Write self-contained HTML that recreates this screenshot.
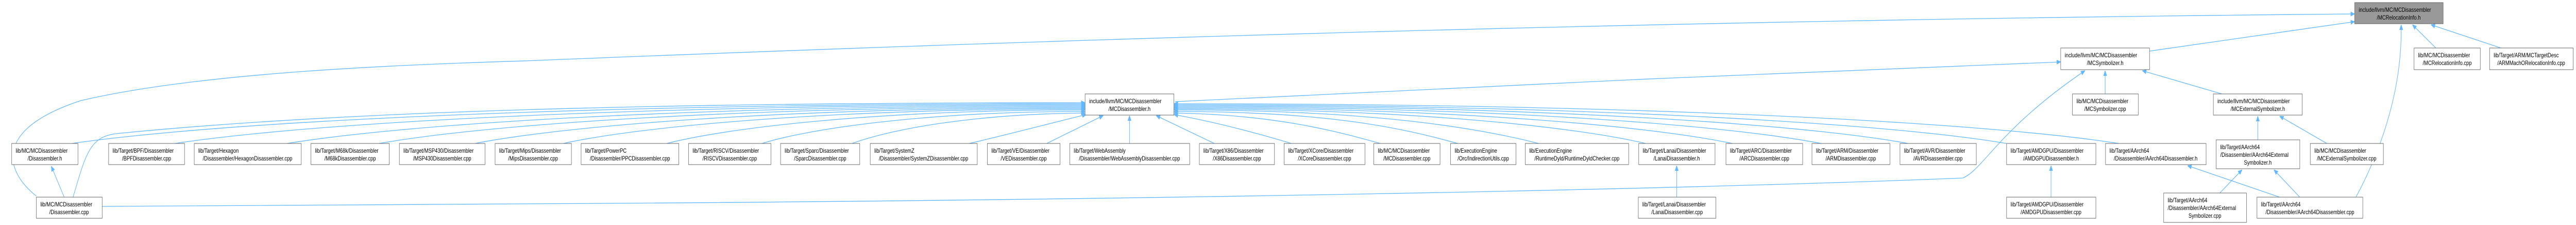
<!DOCTYPE html>
<html><head><meta charset="utf-8"><style>
html,body{margin:0;padding:0;background:#fff;overflow:hidden;width:100vw;height:100vh;}
svg{display:block;width:100vw;height:100vh;}
text{font-family:"Liberation Sans",Arial,sans-serif;font-size:12px;fill:#000;}
.n{fill:#fff;stroke:#666;stroke-width:1;}
.e{fill:none;stroke:#63b8ff;stroke-width:1.3;}
</style></head><body>
<svg viewBox="0 0 6379 436" preserveAspectRatio="none" xmlns="http://www.w3.org/2000/svg">
<defs><marker id="a" viewBox="0 0 10 10" refX="10" refY="5" markerWidth="10" markerHeight="10" markerUnits="userSpaceOnUse" orient="auto"><path d="M0,1 L10,5 L0,9 z" fill="#63b8ff" stroke="#63b8ff"/></marker></defs>
<g class="edges">
<path class="e" marker-end="url(#a)" d="M178,278 C560,235 1440,201 2687,201"/>
<path class="e" marker-end="url(#a)" d="M433,278 C770,238 1560,203 2687,203"/>
<path class="e" marker-end="url(#a)" d="M711,278 C1010,240 1700,205 2687,205"/>
<path class="e" marker-end="url(#a)" d="M939,278 C1200,242 1810,207 2687,207"/>
<path class="e" marker-end="url(#a)" d="M1176,278 C1400,244 1930,209 2687,209"/>
<path class="e" marker-end="url(#a)" d="M1395,278 C1580,246 2040,211 2687,211"/>
<path class="e" marker-end="url(#a)" d="M1651,278 C1800,248 2170,213 2687,213"/>
<path class="e" marker-end="url(#a)" d="M1887,278 C2000,250 2290,216 2687,216"/>
<path class="e" marker-end="url(#a)" d="M2110,278 C2200,252 2400,221 2687,219"/>
<path class="e" marker-end="url(#a)" d="M2400,278 C2500,260 2620,235 2690,222"/>
<path class="e" marker-end="url(#a)" d="M2592,278 L2732,224"/>
<path class="e" marker-end="url(#a)" d="M2797,278 L2797,224"/>
<path class="e" marker-end="url(#a)" d="M3007,278 L2863,224"/>
<path class="e" marker-end="url(#a)" d="M3198,278 C3100,255 3000,235 2907,222"/>
<path class="e" marker-end="url(#a)" d="M3418,278 C3300,252 3150,222 2907,219"/>
<path class="e" marker-end="url(#a)" d="M3610,278 C3480,250 3300,216 2907,216"/>
<path class="e" marker-end="url(#a)" d="M3810,278 C3660,248 3400,213 2907,213"/>
<path class="e" marker-end="url(#a)" d="M4075,278 C3900,246 3500,211 2907,211"/>
<path class="e" marker-end="url(#a)" d="M4290,278 C4080,244 3600,209 2907,209"/>
<path class="e" marker-end="url(#a)" d="M4510,278 C4270,242 3700,207 2907,207"/>
<path class="e" marker-end="url(#a)" d="M4725,278 C4460,240 3800,205 2907,205"/>
<path class="e" marker-end="url(#a)" d="M4968,278 C4670,238 3900,203 2907,203"/>
<path class="e" marker-end="url(#a)" d="M5247,278 C4900,236 4050,201 2907,201"/>
<path class="e" marker-end="url(#a)" d="M159,382 L127,322"/>
<path class="e" marker-end="url(#a)" d="M181,382 C215,290 225,262 300,258 C800,220 1500,199 2687,199"/>
<path class="e" marker-end="url(#a)" d="M90,380 C10,330 -15,250 200,195 C500,140 1000,125 1300,118 C2500,80 4000,40 5831,27"/>
<path class="e" marker-end="url(#a)" d="M253,400 L1300,395 C2500,390 4000,372 4860,345 C4910,330 4950,250 5163,137"/>
<path class="e" marker-end="url(#a)" d="M2910,197 C3600,170 4400,140 5103,120"/>
<path class="e" marker-end="url(#a)" d="M5213,182 L5213,137"/>
<path class="e" marker-end="url(#a)" d="M5502,182 L5305,137"/>
<path class="e" marker-end="url(#a)" d="M5323,99 L5831,42"/>
<path class="e" marker-end="url(#a)" d="M6032,93 L5974,48"/>
<path class="e" marker-end="url(#a)" d="M6193,93 L6020,48"/>
<path class="e" marker-end="url(#a)" d="M5834,382 C5870,330 5950,200 5946,48"/>
<path class="e" marker-end="url(#a)" d="M5591,271 L5591,225"/>
<path class="e" marker-end="url(#a)" d="M5762,278 L5645,225"/>
<path class="e" marker-end="url(#a)" d="M5497,374 L5552,329"/>
<path class="e" marker-end="url(#a)" d="M5695,382 L5631,329"/>
<path class="e" marker-end="url(#a)" d="M5645,382 L5417,321"/>
<path class="e" marker-end="url(#a)" d="M4152,382 L4152,321"/>
<path class="e" marker-end="url(#a)" d="M5079,382 L5079,321"/>
</g>
<g class="nodes">
<rect x="5831" y="5" width="219" height="41" fill="#999" stroke="#666"/>
<text x="5841" y="23">include/llvm/MC/MCDisassembler</text><text x="5940" y="38" text-anchor="middle">/MCRelocationInfo.h</text>

<rect class="n" x="5103" y="93" width="220" height="42"/>
<text x="5113" y="111">include/llvm/MC/MCDisassembler</text><text x="5213" y="126" text-anchor="middle">/MCSymbolizer.h</text>
<rect class="n" x="5978" y="93" width="164" height="42"/>
<text x="5988" y="111">lib/MC/MCDisassembler</text><text x="6060" y="126" text-anchor="middle">/MCRelocationInfo.cpp</text>
<rect class="n" x="6165" y="93" width="207" height="42"/>
<text x="6175" y="111">lib/Target/ARM/MCTargetDesc</text><text x="6268" y="126" text-anchor="middle">/ARMMachORelocationInfo.cpp</text>

<rect class="n" x="2687" y="182" width="220" height="41"/>
<text x="2697" y="200">include/llvm/MC/MCDisassembler</text><text x="2797" y="215" text-anchor="middle">/MCDisassembler.h</text>
<rect class="n" x="5132" y="182" width="163" height="41"/>
<text x="5142" y="200">lib/MC/MCDisassembler</text><text x="5213" y="215" text-anchor="middle">/MCSymbolizer.cpp</text>
<rect class="n" x="5481" y="182" width="220" height="41"/>
<text x="5491" y="200">include/llvm/MC/MCDisassembler</text><text x="5591" y="215" text-anchor="middle">/MCExternalSymbolizer.h</text>

<rect class="n" x="29" y="278" width="164" height="41"/>
<text x="39" y="296">lib/MC/MCDisassembler</text><text x="111" y="311" text-anchor="middle">/Disassembler.h</text>
<rect class="n" x="269" y="278" width="188" height="41"/>
<text x="279" y="296">lib/Target/BPF/Disassembler</text><text x="363" y="311" text-anchor="middle">/BPFDisassembler.cpp</text>
<rect class="n" x="481" y="278" width="265" height="41"/>
<text x="491" y="296">lib/Target/Hexagon</text><text x="613" y="311" text-anchor="middle">/Disassembler/HexagonDisassembler.cpp</text>
<rect class="n" x="770" y="278" width="194" height="41"/>
<text x="780" y="296">lib/Target/M68k/Disassembler</text><text x="867" y="311" text-anchor="middle">/M68kDisassembler.cpp</text>
<rect class="n" x="989" y="278" width="212" height="41"/>
<text x="999" y="296">lib/Target/MSP430/Disassembler</text><text x="1095" y="311" text-anchor="middle">/MSP430Disassembler.cpp</text>
<rect class="n" x="1226" y="278" width="189" height="41"/>
<text x="1236" y="296">lib/Target/Mips/Disassembler</text><text x="1320" y="311" text-anchor="middle">/MipsDisassembler.cpp</text>
<rect class="n" x="1439" y="278" width="242" height="41"/>
<text x="1449" y="296">lib/Target/PowerPC</text><text x="1560" y="311" text-anchor="middle">/Disassembler/PPCDisassembler.cpp</text>
<rect class="n" x="1705" y="278" width="204" height="41"/>
<text x="1715" y="296">lib/Target/RISCV/Disassembler</text><text x="1807" y="311" text-anchor="middle">/RISCVDisassembler.cpp</text>
<rect class="n" x="1933" y="278" width="196" height="41"/>
<text x="1943" y="296">lib/Target/Sparc/Disassembler</text><text x="2031" y="311" text-anchor="middle">/SparcDisassembler.cpp</text>
<rect class="n" x="2155" y="278" width="265" height="41"/>
<text x="2165" y="296">lib/Target/SystemZ</text><text x="2287" y="311" text-anchor="middle">/Disassembler/SystemZDisassembler.cpp</text>
<rect class="n" x="2445" y="278" width="180" height="41"/>
<text x="2455" y="296">lib/Target/VE/Disassembler</text><text x="2535" y="311" text-anchor="middle">/VEDisassembler.cpp</text>
<rect class="n" x="2649" y="278" width="297" height="41"/>
<text x="2659" y="296">lib/Target/WebAssembly</text><text x="2797" y="311" text-anchor="middle">/Disassembler/WebAssemblyDisassembler.cpp</text>
<rect class="n" x="2970" y="278" width="186" height="41"/>
<text x="2980" y="296">lib/Target/X86/Disassembler</text><text x="3063" y="311" text-anchor="middle">/X86Disassembler.cpp</text>
<rect class="n" x="3180" y="278" width="200" height="41"/>
<text x="3190" y="296">lib/Target/XCore/Disassembler</text><text x="3280" y="311" text-anchor="middle">/XCoreDisassembler.cpp</text>
<rect class="n" x="3402" y="278" width="164" height="41"/>
<text x="3412" y="296">lib/MC/MCDisassembler</text><text x="3484" y="311" text-anchor="middle">/MCDisassembler.cpp</text>
<rect class="n" x="3592" y="278" width="162" height="41"/>
<text x="3602" y="296">lib/ExecutionEngine</text><text x="3673" y="311" text-anchor="middle">/Orc/IndirectionUtils.cpp</text>
<rect class="n" x="3777" y="278" width="256" height="41"/>
<text x="3787" y="296">lib/ExecutionEngine</text><text x="3905" y="311" text-anchor="middle">/RuntimeDyld/RuntimeDyldChecker.cpp</text>
<rect class="n" x="4058" y="278" width="189" height="41"/>
<text x="4068" y="296">lib/Target/Lanai/Disassembler</text><text x="4152" y="311" text-anchor="middle">/LanaiDisassembler.h</text>
<rect class="n" x="4274" y="278" width="190" height="41"/>
<text x="4284" y="296">lib/Target/ARC/Disassembler</text><text x="4369" y="311" text-anchor="middle">/ARCDisassembler.cpp</text>
<rect class="n" x="4487" y="278" width="193" height="41"/>
<text x="4497" y="296">lib/Target/ARM/Disassembler</text><text x="4583" y="311" text-anchor="middle">/ARMDisassembler.cpp</text>
<rect class="n" x="4705" y="278" width="189" height="41"/>
<text x="4715" y="296">lib/Target/AVR/Disassembler</text><text x="4799" y="311" text-anchor="middle">/AVRDisassembler.cpp</text>
<rect class="n" x="4969" y="278" width="221" height="41"/>
<text x="4979" y="296">lib/Target/AMDGPU/Disassembler</text><text x="5079" y="311" text-anchor="middle">/AMDGPUDisassembler.h</text>
<rect class="n" x="5214" y="278" width="249" height="41"/>
<text x="5224" y="296">lib/Target/AArch64</text><text x="5338" y="311" text-anchor="middle">/Disassembler/AArch64Disassembler.h</text>
<rect class="n" x="5488" y="271" width="207" height="56"/>
<text x="5498" y="289">lib/Target/AArch64</text><text x="5498" y="304">/Disassembler/AArch64External</text><text x="5591" y="319" text-anchor="middle">Symbolizer.h</text>
<rect class="n" x="5721" y="278" width="181" height="41"/>
<text x="5731" y="296">lib/MC/MCDisassembler</text><text x="5811" y="311" text-anchor="middle">/MCExternalSymbolizer.cpp</text>

<rect class="n" x="90" y="382" width="163" height="41"/>
<text x="100" y="400">lib/MC/MCDisassembler</text><text x="171" y="415" text-anchor="middle">/Disassembler.cpp</text>
<rect class="n" x="4057" y="382" width="192" height="41"/>
<text x="4067" y="400">lib/Target/Lanai/Disassembler</text><text x="4153" y="415" text-anchor="middle">/LanaiDisassembler.cpp</text>
<rect class="n" x="4969" y="382" width="221" height="41"/>
<text x="4979" y="400">lib/Target/AMDGPU/Disassembler</text><text x="5079" y="415" text-anchor="middle">/AMDGPUDisassembler.cpp</text>
<rect class="n" x="5358" y="374" width="205" height="57"/>
<text x="5368" y="392">lib/Target/AArch64</text><text x="5368" y="407">/Disassembler/AArch64External</text><text x="5460" y="422" text-anchor="middle">Symbolizer.cpp</text>
<rect class="n" x="5589" y="382" width="262" height="41"/>
<text x="5599" y="400">lib/Target/AArch64</text><text x="5720" y="415" text-anchor="middle">/Disassembler/AArch64Disassembler.cpp</text>
</g>
</svg>
</body></html>
